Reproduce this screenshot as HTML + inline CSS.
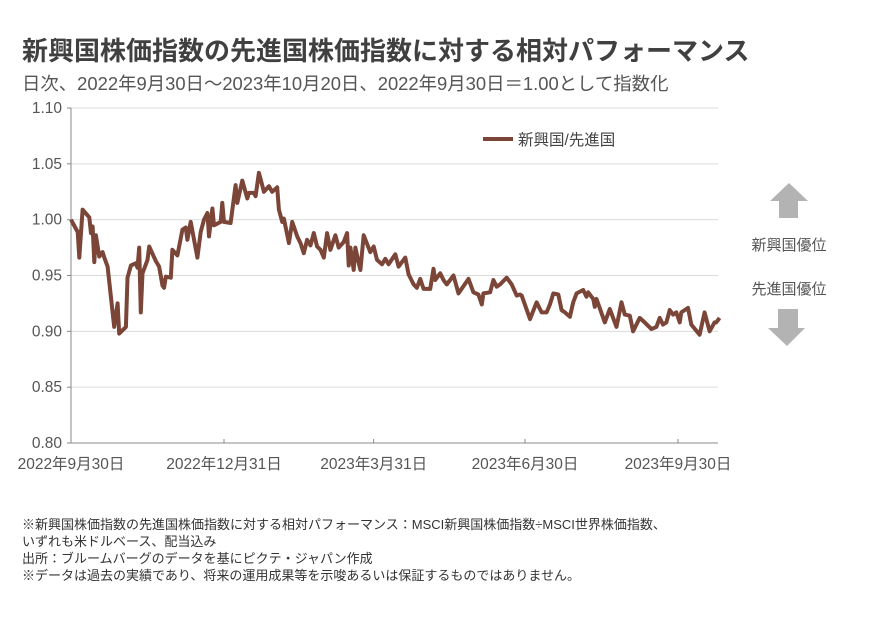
<!DOCTYPE html>
<html><head><meta charset="utf-8">
<style>
body{margin:0;background:#fff;width:886px;height:617px;overflow:hidden;font-family:"Liberation Sans","Noto Sans CJK JP",sans-serif;}
.t{position:absolute;white-space:nowrap;}
</style></head>
<body>
<div class="t" style="left:22px;top:31px;font-size:26px;font-weight:bold;color:#404040;">新興国株価指数の先進国株価指数に対する相対パフォーマンス</div>
<div class="t" style="left:22px;top:70px;font-size:18.4px;color:#555;">日次、2022年9月30日～2023年10月20日、2022年9月30日＝1.00として指数化</div>
<svg id="chart" width="886" height="617" style="position:absolute;left:0;top:0;" xmlns="http://www.w3.org/2000/svg" font-family="Liberation Sans, Noto Sans CJK JP, sans-serif"></svg>
<div class="t" style="left:22px;top:514px;font-size:13px;color:#333;">※新興国株価指数の先進国株価指数に対する相対パフォーマンス：MSCI新興国株価指数÷MSCI世界株価指数、</div>
<div class="t" style="left:22px;top:531px;font-size:13px;color:#333;">いずれも米ドルベース、配当込み</div>
<div class="t" style="left:22px;top:548px;font-size:13px;color:#333;">出所：ブルームバーグのデータを基にピクテ・ジャパン作成</div>
<div class="t" style="left:22px;top:565px;font-size:13px;color:#333;">※データは過去の実績であり、将来の運用成果等を示唆あるいは保証するものではありません。</div>
<script>
const days=[0,4,5,7,11,12,13,14,15,17,19,20,22,26,28,29,33,34,36,39,40,41,42,43,46,47,51,53,55,56,57,60,61,64,67,69,70,72,76,78,80,82,83,85,86,90,91,92,96,99,100,103,106,107,110,111,113,115,116,119,121,124,125,127,128,131,133,136,138,140,142,144,146,148,150,152,154,156,159,161,164,166,167,168,170,171,173,174,176,180,182,184,187,189,191,195,197,201,203,206,208,210,212,216,218,219,222,224,226,230,233,239,242,245,247,248,252,254,256,258,262,265,268,270,271,276,280,283,286,288,290,293,295,297,300,302,304,308,310,311,314,315,316,321,324,328,331,333,336,338,342,345,349,352,354,356,358,360,362,364,366,367,371,373,378,381,384,387,388,390];
const values=[1.000,0.989,0.966,1.009,1.002,0.988,0.994,0.962,0.986,0.967,0.971,0.966,0.958,0.904,0.925,0.898,0.904,0.948,0.959,0.961,0.957,0.975,0.917,0.952,0.964,0.976,0.963,0.958,0.941,0.939,0.949,0.948,0.973,0.968,0.991,0.993,0.982,0.998,0.966,0.989,1.000,1.006,0.985,1.010,0.995,0.998,1.015,0.998,0.997,1.031,1.015,1.035,1.019,1.024,1.024,1.021,1.042,1.031,1.025,1.030,1.025,1.029,1.009,0.998,1.001,0.979,0.998,0.985,0.979,0.970,0.982,0.977,0.988,0.976,0.973,0.966,0.988,0.973,0.986,0.975,0.980,0.988,0.959,0.975,0.955,0.975,0.961,0.955,0.986,0.971,0.976,0.964,0.960,0.965,0.960,0.969,0.958,0.966,0.951,0.942,0.939,0.947,0.938,0.938,0.956,0.946,0.952,0.946,0.942,0.950,0.934,0.947,0.935,0.933,0.924,0.934,0.935,0.946,0.940,0.942,0.948,0.942,0.932,0.933,0.932,0.911,0.926,0.917,0.917,0.924,0.934,0.933,0.919,0.917,0.913,0.926,0.934,0.937,0.931,0.935,0.929,0.922,0.929,0.908,0.920,0.904,0.926,0.915,0.914,0.900,0.912,0.908,0.902,0.904,0.912,0.906,0.908,0.919,0.915,0.917,0.908,0.917,0.921,0.906,0.897,0.917,0.900,0.908,0.908,0.912];
const yTicks=[0.80,0.85,0.90,0.95,1.00,1.05,1.10];
const xTickDays=[0,92,182,273,365];
const xTickLabels=["2022年9月30日","2022年12月31日","2023年3月31日","2023年6月30日","2023年9月30日"];
const seriesName="新興国/先進国";

const svg=document.getElementById('chart');
const NS="http://www.w3.org/2000/svg";
const X0=71,X1=718,Y0=443,Y1=108;
function xs(d){return X0+d*1.663;}
function ys(v){return Y0-(v-0.80)/(0.30)*(Y0-Y1);}
function mk(tag,attrs){const e=document.createElementNS(NS,tag);for(const k in attrs)e.setAttribute(k,attrs[k]);svg.appendChild(e);return e;}
yTicks.forEach(v=>{
  const y=ys(v);
  if(v>0.8){const g=mk('line',{x1:X0,x2:X1,y1:y,y2:y,stroke:'#dcdcdc','stroke-width':1});
  
  }
  const tk=mk('line',{x1:X0-4,x2:X0,y1:y,y2:y,stroke:'#888','stroke-width':1});
  
  
  const t=mk('text',{x:X0-9,y:y+5,'text-anchor':'end','font-size':15.5,fill:'#555'});
  t.textContent=v.toFixed(2);
  
  
});
const ya=mk('line',{x1:X0,x2:X0,y1:Y1,y2:Y0,stroke:'#888','stroke-width':1});


const xa=mk('line',{x1:X0,x2:X1,y1:Y0,y2:Y0,stroke:'#888','stroke-width':1});


xTickDays.forEach((d,i)=>{
  const x=xs(d);
  const tk=mk('line',{x1:x,x2:x,y1:Y0-4,y2:Y0,stroke:'#888','stroke-width':1});
  
  
  const t=mk('text',{x:x,y:469,'text-anchor':'middle','font-size':15.5,fill:'#555'});
  t.textContent=xTickLabels[i];
  
  
});
const pts=days.map((d,i)=>xs(d).toFixed(1)+','+ys(values[i]).toFixed(1)).join(' ');
const line=mk('polyline',{points:pts,fill:'none',stroke:'#7b4538','stroke-width':4,'stroke-linejoin':'round'});


const ll=mk('line',{x1:483,x2:513,y1:139,y2:139,stroke:'#7b4538','stroke-width':4});


const lt=mk('text',{x:518,y:145,'font-size':15.5,fill:'#444'});
lt.textContent=seriesName;


const ua=mk('polygon',{points:'789,183 808,201 798,201 798,218 779,218 779,201 770,201',fill:'#b3b3b3'});


const da=mk('polygon',{points:'778,309 798,309 798,328 805,328 787,346 768,328 778,328',fill:'#b3b3b3'});


const em=mk('text',{x:789,y:250,'text-anchor':'middle','font-size':15,fill:'#555'});
em.textContent='新興国優位';


const dm=mk('text',{x:789,y:294,'text-anchor':'middle','font-size':15,fill:'#555'});
dm.textContent='先進国優位';


</script>
</body></html>
